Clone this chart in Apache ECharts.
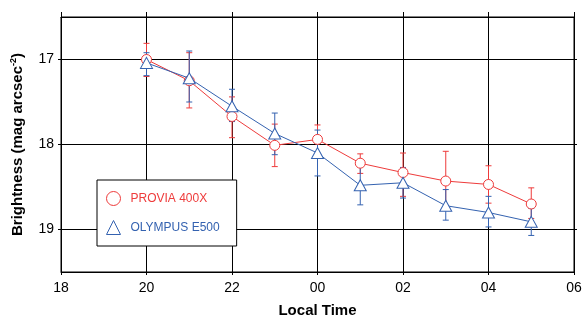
<!DOCTYPE html>
<html>
<head>
<meta charset="utf-8">
<script src="https://cdn.jsdelivr.net/npm/echarts@6/dist/echarts.min.js"></script>
<style>html,body{margin:0;padding:0;background:#fff;}#c{width:585px;height:323px;}</style>
</head>
<body>
<div id="c"></div>
<script>
// Local time in hours (24 = 00, 25 = 01 ...)
var hours = [20, 21, 22, 23, 24, 25, 26, 27, 28, 29];
var xTickValues = [18, 20, 22, 24, 26, 28, 30];
var yTickValues = [17, 18, 19];

var proviaMean = [17.00, 17.25, 17.67, 18.01, 17.94, 18.22, 18.33, 18.43, 18.47, 18.70];
var proviaLow  = [16.81, 16.92, 17.44, 17.76, 17.77, 18.11, 18.10, 18.08, 18.25, 18.51];
var proviaHigh = [17.20, 17.57, 17.92, 18.26, 18.12, 18.34, 18.61, 18.77, 18.69, 18.87];

var olympusMean = [17.04, 17.22, 17.55, 17.87, 18.10, 18.48, 18.45, 18.72, 18.80, 18.91];
var olympusLow  = [16.92, 16.90, 17.35, 17.63, 17.83, 18.26, 18.27, 18.53, 18.61, 18.75];
var olympusHigh = [17.19, 17.50, 17.73, 18.12, 18.37, 18.71, 18.63, 18.89, 18.97, 19.07];

var RED = '#ee3b3b';
var BLUE = '#3462b0';
var FONT = "'Liberation Sans', Arial, Helvetica, sans-serif";

function pairs(xs, ys) { return xs.map(function (x, i) { return [x, ys[i]]; }); }
function triples(xs, a, b) { return xs.map(function (x, i) { return [x, a[i], b[i]]; }); }

function errRender(color) {
  return function (params, api) {
    var x = api.value(0);
    var p1 = api.coord([x, api.value(1)]);
    var p2 = api.coord([x, api.value(2)]);
    var hw = 3;
    var st = { stroke: color, lineWidth: 1 };
    return {
      type: 'group',
      children: [
        { type: 'line', shape: { x1: p1[0], y1: p1[1], x2: p2[0], y2: p2[1] }, style: st },
        { type: 'line', shape: { x1: p1[0] - hw, y1: p1[1], x2: p1[0] + hw, y2: p1[1] }, style: st },
        { type: 'line', shape: { x1: p2[0] - hw, y1: p2[1], x2: p2[0] + hw, y2: p2[1] }, style: st }
      ]
    };
  };
}

function fmtHour(v) { var h = Math.round(v) % 24; return (h < 10 ? '0' : '') + h; }

var chart = echarts.init(document.getElementById('c'), null, { renderer: 'canvas' });
chart.setOption({
  animation: false,
  backgroundColor: '#fff',
  grid: { left: 61, right: 11, top: 17, bottom: 49, show: true, borderColor: '#000', borderWidth: 1 },
  xAxis: [{
    type: 'value', min: 18, max: 30, interval: 1, position: 'bottom',
    name: 'Local Time', nameLocation: 'middle', nameGap: 31,
    nameTextStyle: { fontFamily: FONT, fontSize: 15, fontWeight: 'bold', color: '#000' },
    axisLine: { show: true, lineStyle: { color: '#000', width: 1 } },
    axisTick: { show: true, length: 3, customValues: xTickValues, lineStyle: { color: '#000' } },
    axisLabel: { customValues: xTickValues, formatter: fmtHour, fontFamily: FONT, fontSize: 14, color: '#000', margin: 9 },
    splitLine: { show: true, lineStyle: { color: '#000', width: 1 } }
  }, {
    type: 'value', min: 18, max: 30, interval: 1, position: 'top',
    axisLine: { show: true, lineStyle: { color: '#000' } },
    axisTick: { show: true, length: 5, customValues: xTickValues, lineStyle: { color: '#000' } },
    axisLabel: { show: false }, splitLine: { show: false }
  }],
  yAxis: [{
    type: 'value', inverse: true, min: 16.5, max: 19.5, interval: 0.5,
    name: '{a|Brightness (mag arcsec}{s|-2}{a|)}', nameLocation: 'middle', nameGap: 34,
    nameTextStyle: {
      rich: {
        a: { fontFamily: FONT, fontSize: 15, fontWeight: 'bold', color: '#000', lineHeight: 18 },
        s: { fontFamily: FONT, fontSize: 9, fontWeight: 'bold', color: '#000', lineHeight: 9, verticalAlign: 'top' }
      }
    },
    axisLine: { show: true, lineStyle: { color: '#000', width: 1 } },
    axisTick: { show: true, length: 3, customValues: yTickValues, lineStyle: { color: '#000' } },
    axisLabel: { customValues: yTickValues, fontFamily: FONT, fontSize: 14, color: '#000', margin: 7 },
    splitLine: { show: true, lineStyle: { color: '#000', width: 1 } }
  }, {
    type: 'value', inverse: true, min: 16.5, max: 19.5, interval: 0.5, position: 'right',
    axisLine: { show: true, lineStyle: { color: '#000' } },
    axisTick: { show: true, length: 3, customValues: yTickValues, lineStyle: { color: '#000' } },
    axisLabel: { show: false }, splitLine: { show: false }
  }],
  legend: {
    orient: 'vertical', left: 97, top: 180,
    padding: [11, 17, 11, 9], itemGap: 14, itemWidth: 14, itemHeight: 14,
    backgroundColor: '#fff', borderColor: '#000', borderWidth: 1, borderRadius: 0,
    textStyle: { fontFamily: FONT, fontSize: 12, padding: [0, 0, 0, 5] },
    data: [
      { name: 'PROVIA 400X', icon: 'circle', itemStyle: { color: '#fff', borderColor: RED, borderWidth: 1 }, textStyle: { color: RED } },
      { name: 'OLYMPUS E500', icon: 'triangle', itemStyle: { color: '#fff', borderColor: BLUE, borderWidth: 1 }, textStyle: { color: BLUE } }
    ]
  },
  series: [
    { name: 'PROVIA 400X err', type: 'custom', renderItem: errRender(RED), data: triples(hours, proviaLow, proviaHigh), encode: { x: 0, y: [1, 2] }, z: 2, silent: true },
    { name: 'OLYMPUS E500 err', type: 'custom', renderItem: errRender(BLUE), data: triples(hours, olympusLow, olympusHigh), encode: { x: 0, y: [1, 2] }, z: 2, silent: true },
    { name: 'PROVIA 400X', type: 'line', data: pairs(hours, proviaMean), symbol: 'circle', symbolSize: 10,
      lineStyle: { color: RED, width: 1 }, itemStyle: { color: '#fff', borderColor: RED, borderWidth: 1 }, z: 3 },
    { name: 'OLYMPUS E500', type: 'line', data: pairs(hours, olympusMean), symbol: 'triangle', symbolSize: [12, 11],
      lineStyle: { color: BLUE, width: 1 }, itemStyle: { color: '#fff', borderColor: BLUE, borderWidth: 1 }, z: 4 }
  ]
});
</script>
</body>
</html>
